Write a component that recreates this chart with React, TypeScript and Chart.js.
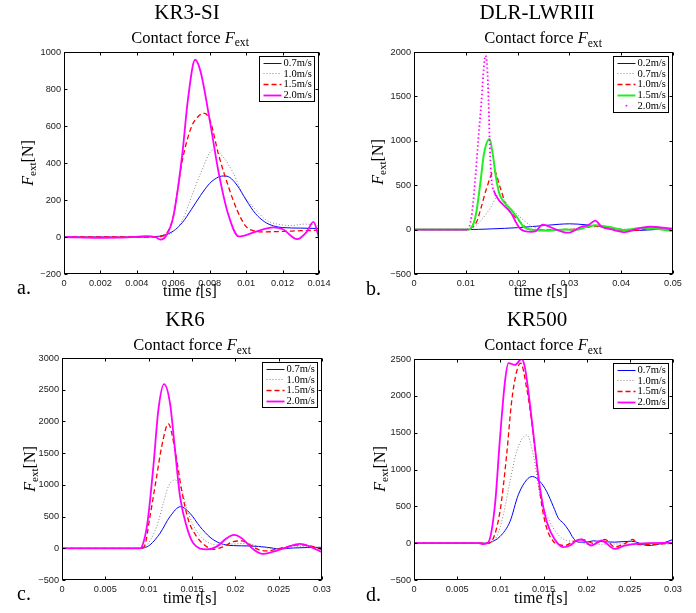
import React, { useEffect, useRef } from 'react';
import { Chart, registerables } from 'chart.js';
Chart.register(...registerables);

// ---------- Panel a: KR3-SI ----------
const aXTicks = [0, 0.002, 0.004, 0.006, 0.008, 0.01, 0.012, 0.014];
const aYTicks = [-200, 0, 200, 400, 600, 800, 1000];
const aT07 = [0, 0.004, 0.005, 0.0055, 0.006, 0.0065, 0.007, 0.0075, 0.008, 0.0085, 0.0088, 0.0091, 0.0095, 0.01, 0.0105, 0.011, 0.0115, 0.012, 0.013, 0.014];
const aF07 = [0, 0, 2, 10, 32, 78, 150, 225, 290, 325, 330, 322, 280, 200, 128, 83, 60, 51, 48, 46];
const aT10 = [0, 0.005, 0.0055, 0.006, 0.0065, 0.007, 0.0075, 0.0082, 0.0088, 0.0093, 0.0098, 0.0105, 0.0111, 0.0117, 0.0125, 0.0132, 0.014];
const aF10 = [0, 0, 5, 28, 92, 218, 344, 472, 425, 344, 236, 150, 92, 70, 62, 70, 62];
const aT15 = [0, 0.005, 0.0055, 0.006, 0.0065, 0.007, 0.0074, 0.0077, 0.008, 0.0085, 0.009, 0.0095, 0.01, 0.0105, 0.011, 0.012, 0.013, 0.014];
const aF15 = [0, 0, 10, 110, 416, 596, 655, 668, 635, 440, 280, 146, 56, 32, 28, 30, 34, 36];
const aT20 = [0, 0.002, 0.0035, 0.0045, 0.005, 0.0053, 0.0056, 0.006, 0.0065, 0.0068, 0.0072, 0.0075, 0.008, 0.0085, 0.009, 0.0096, 0.0105, 0.0115, 0.012, 0.0128, 0.0133, 0.0137, 0.014];
const aF20 = [0, -4, -2, 4, 0, -14, 5, 110, 452, 740, 958, 893, 632, 344, 128, 3, 28, 52, 43, -12, 25, 82, -5];

// ---------- Panel b: DLR-LWRIII ----------
const bXTicks = [0, 0.01, 0.02, 0.03, 0.04, 0.05];
const bYTicks = [-500, 0, 500, 1000, 1500, 2000];
const bT02 = [0, 0.01, 0.015, 0.02, 0.025, 0.028, 0.03, 0.033, 0.036, 0.039, 0.042, 0.045, 0.048, 0.05];
const bF02 = [0, 0, 8, 22, 45, 60, 65, 55, 35, 12, -12, -5, 5, 10];
const bT07 = [0, 0.0105, 0.0114, 0.0127, 0.0147, 0.0163, 0.0185, 0.0204, 0.0224, 0.0237, 0.026, 0.03, 0.035, 0.04, 0.045, 0.05];
const bF07 = [0, 0, 20, 88, 238, 385, 257, 145, 51, 13, 0, 5, 30, 5, 5, 5];
const bT10 = [0, 0.0105, 0.0111, 0.0121, 0.013, 0.0139, 0.0155, 0.0166, 0.0179, 0.0195, 0.0211, 0.022, 0.025, 0.0285, 0.032, 0.0349, 0.0387, 0.042, 0.046, 0.05];
const bF10 = [0, 0, 20, 88, 257, 444, 660, 481, 257, 145, 51, 6, -5, 0, 10, 40, 0, -10, 10, 0];
const bT15 = [0, 0.0105, 0.0115, 0.0121, 0.0128, 0.0135, 0.0146, 0.0152, 0.0158, 0.0165, 0.0175, 0.0188, 0.02, 0.0211, 0.0225, 0.0259, 0.0291, 0.031, 0.0349, 0.0375, 0.0407, 0.0433, 0.0465, 0.05];
const bF15 = [0, 0, 70, 220, 520, 850, 1020, 850, 600, 400, 300, 220, 130, 35, 0, -13, 2, -5, 50, 32, -5, 14, 10, -16];
const bT20 = [0, 0.0103, 0.0111, 0.01175, 0.0124, 0.01304, 0.01349, 0.0138, 0.01413, 0.01439, 0.01464, 0.01497, 0.0154, 0.0163, 0.0172, 0.0188, 0.0198, 0.0205, 0.0226, 0.0235, 0.0248, 0.0254, 0.027, 0.0298, 0.0323, 0.0336, 0.035, 0.0362, 0.0381, 0.0407, 0.0433, 0.0455, 0.05];
const bF20 = [0, 0, 145, 520, 1006, 1457, 1833, 1960, 1833, 1457, 932, 560, 440, 340, 280, 182, 70, 10, -25, -18, 56, 50, 10, -35, 32, 50, 100, 32, 2, -28, 14, 32, 10];

// ---------- Panel c: KR6 ----------
const cXTicks = [0, 0.005, 0.01, 0.015, 0.02, 0.025, 0.03];
const cYTicks = [-500, 0, 500, 1000, 1500, 2000, 2500, 3000];
const cT07 = [0, 0.009, 0.0095, 0.01015, 0.01131, 0.01246, 0.01369, 0.01477, 0.01592, 0.01708, 0.01823, 0.01977, 0.02169, 0.02362, 0.02515, 0.02669, 0.03];
const cF07 = [0, 0, 8, 53, 237, 500, 657, 552, 342, 174, 79, 42, 37, 16, -10, 5, 16];
const cT10 = [0, 0.009, 0.0095, 0.01092, 0.01169, 0.01227, 0.01304, 0.0138, 0.01458, 0.01554, 0.01669, 0.01785, 0.01977, 0.0213, 0.02285, 0.02477, 0.02746, 0.03];
const cF10 = [0, 0, 15, 342, 710, 973, 1078, 920, 552, 263, 105, 53, 68, 79, 26, -10, 26, 10];
const cT15 = [0, 0.009, 0.0095, 0.01015, 0.01092, 0.0115, 0.01227, 0.01304, 0.0138, 0.01458, 0.01554, 0.01669, 0.01746, 0.01862, 0.01977, 0.02073, 0.02169, 0.02277, 0.02362, 0.02515, 0.02746, 0.029, 0.03];
const cF15 = [0, 0, 30, 500, 1130, 1603, 1961, 1551, 920, 447, 184, 26, -16, 26, 105, 116, 53, -26, -42, 0, 53, 26, -26];
const cT20 = [0, 0.009, 0.0092, 0.00985, 0.01054, 0.01112, 0.01177, 0.01246, 0.01304, 0.01362, 0.01438, 0.01515, 0.01669, 0.01785, 0.019, 0.01985, 0.02073, 0.02208, 0.02315, 0.02438, 0.02592, 0.02746, 0.02862, 0.03];
const cF20 = [0, 0, 20, 394, 1288, 2182, 2587, 2287, 1551, 815, 342, 79, -16, 26, 158, 210, 158, -16, -89, -53, 16, 68, 26, -63];

// ---------- Panel d: KR500 ----------
const dXTicks = [0, 0.005, 0.01, 0.015, 0.02, 0.025, 0.03];
const dYTicks = [-500, 0, 500, 1000, 1500, 2000, 2500];
const dT07 = [0, 0.0085, 0.0088, 0.00996, 0.01112, 0.01208, 0.01305, 0.01371, 0.01459, 0.01537, 0.01614, 0.01672, 0.0173, 0.01788, 0.01846, 0.01903, 0.02, 0.02077, 0.02154, 0.02324, 0.02517, 0.0271, 0.02865, 0.03];
const dF07 = [0, 0, 9, 90, 294, 656, 860, 905, 837, 701, 498, 339, 271, 181, 68, 14, 14, 32, 23, 14, 27, -32, -5, 50];
const dT10 = [0, 0.0085, 0.00958, 0.01035, 0.01112, 0.01189, 0.01305, 0.01382, 0.01459, 0.01537, 0.01614, 0.01691, 0.01768, 0.01884, 0.0202, 0.024, 0.027, 0.03];
const dF10 = [0, 0, 90, 385, 837, 1244, 1470, 1199, 656, 385, 204, 90, 36, 23, -18, -10, -18, -10];
const dT15 = [0, 0.0085, 0.0088, 0.00996, 0.01073, 0.01131, 0.01189, 0.01236, 0.01305, 0.01363, 0.01421, 0.01479, 0.01537, 0.01614, 0.01691, 0.01749, 0.01846, 0.01942, 0.02097, 0.02212, 0.02324, 0.0244, 0.02536, 0.02595, 0.0271, 0.03];
const dF15 = [0, 0, 5, 430, 1199, 1923, 2330, 2443, 2104, 1652, 1063, 520, 204, 23, -23, -32, 23, 50, -5, 50, -50, -5, 50, -18, -18, 0];
const dT20 = [0, 0.0075, 0.00803, 0.0086, 0.00938, 0.00996, 0.01054, 0.01093, 0.0117, 0.01247, 0.01286, 0.01344, 0.01402, 0.01459, 0.01537, 0.01633, 0.0173, 0.01807, 0.01884, 0.01942, 0.02054, 0.0217, 0.02324, 0.0244, 0.02595, 0.03];
const dF20 = [0, 0, -14, 10, 520, 1425, 2195, 2443, 2421, 2502, 2376, 1878, 1290, 747, 294, 45, -54, -32, 36, 50, -32, 36, -77, -32, -5, 5];

// ---------- styles ----------
const STYLES: Record<string, any> = {
  blue: { borderColor: '#0000ff', borderWidth: 1 },
  gray: { borderColor: '#858585', borderWidth: 1, borderDash: [1, 2] },
  red: { borderColor: '#ff0000', borderWidth: 1.3, borderDash: [5, 3] },
  magenta: { borderColor: '#ff00ff', borderWidth: 1.8 },
  green: { borderColor: '#22ee22', borderWidth: 2 },
  magentaDots: {
    borderColor: '#ff00ff',
    borderWidth: 1.8,
    legendDot: true,
    segment: {
      borderDash: (ctx: any) => {
        const dx = Math.abs(ctx.p1.x - ctx.p0.x);
        const dy = Math.abs(ctx.p1.y - ctx.p0.y);
        return dy / Math.max(dx, 0.01) > 3 ? [1.4, 2.6] : undefined;
      },
    },
  },
};

type Series = { label: string; t: number[]; f: number[]; style: string };
type Panel = {
  left: number; top: number; padTop: number; padRight: number; yW: number; xH: number;
  xMax: number; yMin: number; yMax: number; xTicks: number[]; yTicks: number[]; series: Series[];
};

const PANELS: Panel[] = [
  {
    left: 0, top: 0, padTop: 52, padRight: 29, yW: 64, xH: 32,
    xMax: 0.014, yMin: -200, yMax: 1000, xTicks: aXTicks, yTicks: aYTicks,
    series: [
      { label: '0.7m/s', t: aT07, f: aF07, style: 'blue' },
      { label: '1.0m/s', t: aT10, f: aF10, style: 'gray' },
      { label: '1.5m/s', t: aT15, f: aF15, style: 'red' },
      { label: '2.0m/s', t: aT20, f: aF20, style: 'magenta' },
    ],
  },
  {
    left: 348, top: 0, padTop: 52, padRight: 23, yW: 66, xH: 32,
    xMax: 0.05, yMin: -500, yMax: 2000, xTicks: bXTicks, yTicks: bYTicks,
    series: [
      { label: '0.2m/s', t: bT02, f: bF02, style: 'blue' },
      { label: '0.7m/s', t: bT07, f: bF07, style: 'gray' },
      { label: '1.0m/s', t: bT10, f: bF10, style: 'red' },
      { label: '1.5m/s', t: bT15, f: bF15, style: 'green' },
      { label: '2.0m/s', t: bT20, f: bF20, style: 'magentaDots' },
    ],
  },
  {
    left: 0, top: 306, padTop: 52, padRight: 26, yW: 62, xH: 32,
    xMax: 0.03, yMin: -500, yMax: 3000, xTicks: cXTicks, yTicks: cYTicks,
    series: [
      { label: '0.7m/s', t: cT07, f: cF07, style: 'blue' },
      { label: '1.0m/s', t: cT10, f: cF10, style: 'gray' },
      { label: '1.5m/s', t: cT15, f: cF15, style: 'red' },
      { label: '2.0m/s', t: cT20, f: cF20, style: 'magenta' },
    ],
  },
  {
    left: 348, top: 306, padTop: 53, padRight: 23, yW: 66, xH: 32,
    xMax: 0.03, yMin: -500, yMax: 2500, xTicks: dXTicks, yTicks: dYTicks,
    series: [
      { label: '0.7m/s', t: dT07, f: dF07, style: 'blue' },
      { label: '1.0m/s', t: dT10, f: dF10, style: 'gray' },
      { label: '1.5m/s', t: dT15, f: dF15, style: 'red' },
      { label: '2.0m/s', t: dT20, f: dF20, style: 'magenta' },
    ],
  },
];

const TICK_FONT = { family: '"Liberation Sans", Arial, Helvetica, sans-serif', size: 9.2 };
const SERIF = '"Liberation Serif", "Times New Roman", Times, serif';

function fmt(v: any) {
  const n = Number(Number(v).toPrecision(6));
  return (n < 0 ? '\u2212' : '') + String(Math.abs(n));
}

const frameTicks = {
  id: 'frameTicks',
  afterDatasetsDraw(chart: any) {
    const { ctx, chartArea: a, scales } = chart;
    ctx.save();
    ctx.strokeStyle = '#000';
    ctx.lineWidth = 1;
    const L = Math.round(a.left) + 0.5, R = Math.round(a.right) - 0.5;
    const T = Math.round(a.top) + 0.5, B = Math.round(a.bottom) - 0.5;
    ctx.strokeRect(L, T, R - L, B - T);
    const len = 3;
    ctx.beginPath();
    scales.x.ticks.forEach((t: any) => {
      const px = Math.round(scales.x.getPixelForValue(t.value)) + 0.5;
      ctx.moveTo(px, B); ctx.lineTo(px, B - len);
      ctx.moveTo(px, T); ctx.lineTo(px, T + len);
    });
    scales.y.ticks.forEach((t: any) => {
      const py = Math.round(scales.y.getPixelForValue(t.value)) + 0.5;
      ctx.moveTo(L, py); ctx.lineTo(L + len, py);
      ctx.moveTo(R, py); ctx.lineTo(R - len, py);
    });
    ctx.stroke();
    ctx.restore();
  },
};

const legendBox = {
  id: 'legendBox',
  afterDraw(chart: any) {
    const { ctx, chartArea: a } = chart;
    const ds = chart.data.datasets;
    ctx.save();
    ctx.font = '10.5px ' + SERIF;
    const textW = Math.max(...ds.map((d: any) => ctx.measureText(d.label).width));
    const rowH = 10.8;
    const sampleW = 18;
    const w = Math.round(4 + sampleW + 2 + textW + 3);
    const h = Math.round(ds.length * rowH + 2);
    const x = Math.round(a.right - 5 - w) + 0.5;
    const y = Math.round(a.top + 4) + 0.5;
    ctx.fillStyle = '#fff';
    ctx.fillRect(x, y, w, h);
    ctx.strokeStyle = '#000';
    ctx.lineWidth = 1;
    ctx.strokeRect(x, y, w, h);
    ds.forEach((d: any, i: number) => {
      const cy = y + 6 + i * rowH;
      const sx0 = x + 4, sx1 = x + 4 + sampleW;
      if (d.legendDot) {
        ctx.fillStyle = d.borderColor;
        ctx.fillRect((sx0 + sx1) / 2 - 0.8, cy - 0.8, 1.6, 1.6);
      } else {
        ctx.beginPath();
        ctx.strokeStyle = d.borderColor;
        ctx.lineWidth = d.borderWidth;
        ctx.setLineDash(d.borderDash || []);
        ctx.moveTo(sx0, Math.round(cy) + 0.5);
        ctx.lineTo(sx1, Math.round(cy) + 0.5);
        ctx.stroke();
        ctx.setLineDash([]);
      }
      ctx.fillStyle = '#000';
      ctx.textBaseline = 'middle';
      ctx.textAlign = 'left';
      ctx.fillText(d.label, sx1 + 2, cy + 0.5);
    });
    ctx.restore();
  },
};

function ChartPanel({ p }: { p: Panel }) {
  const ref = useRef<HTMLCanvasElement>(null);
  useEffect(() => {
    const n = p.series.length;
    const chart = new Chart(ref.current as HTMLCanvasElement, {
      type: 'line',
      data: {
        datasets: p.series.map((s, i) => ({
          label: s.label,
          data: s.t.map((x, j) => ({ x, y: s.f[j] })),
          pointRadius: 0,
          fill: false,
          cubicInterpolationMode: 'monotone',
          order: n - i,
          ...STYLES[s.style],
        })) as any,
      },
      options: {
        responsive: false,
        animation: false,
        devicePixelRatio: 1,
        events: [],
        layout: { padding: { top: p.padTop, right: p.padRight, left: 0, bottom: 0 } },
        scales: {
          x: {
            type: 'linear',
            min: 0,
            max: p.xMax,
            afterBuildTicks: (s: any) => { s.ticks = p.xTicks.map((v) => ({ value: v })); },
            afterFit: (s: any) => { s.height = p.xH; },
            grid: { display: false, drawTicks: false },
            border: { display: false },
            ticks: { autoSkip: false, maxRotation: 0, padding: 4, font: TICK_FONT, color: '#1a1a1a', callback: fmt },
          },
          y: {
            type: 'linear',
            min: p.yMin,
            max: p.yMax,
            afterBuildTicks: (s: any) => { s.ticks = p.yTicks.map((v) => ({ value: v })); },
            afterFit: (s: any) => { s.width = p.yW; },
            grid: { display: false, drawTicks: false },
            border: { display: false },
            ticks: { autoSkip: false, padding: 3, font: TICK_FONT, color: '#1a1a1a', callback: fmt },
          },
        },
        plugins: { legend: { display: false }, tooltip: { enabled: false }, title: { display: false } },
      } as any,
      plugins: [frameTicks, legendBox],
    });
    return () => chart.destroy();
  }, [p]);
  return (
    <canvas
      ref={ref}
      width={348}
      height={306}
      style={{ position: 'absolute', left: p.left, top: p.top, width: 348, height: 306 }}
    />
  );
}

function Txt({ x, y, size, children, align = 'center', italic = false }: any) {
  const style: React.CSSProperties = {
    position: 'absolute',
    left: x,
    top: y - 0.8375 * size,
    fontFamily: SERIF,
    fontSize: size,
    lineHeight: 1,
    whiteSpace: 'nowrap',
    color: '#000',
    fontStyle: italic ? 'italic' : 'normal',
    transform: align === 'center' ? 'translateX(-50%)' : undefined,
  };
  return <div style={style}>{children}</div>;
}

function YLabel({ cx, cy }: { cx: number; cy: number }) {
  return (
    <div
      style={{
        position: 'absolute', left: cx, top: cy, fontFamily: SERIF, fontSize: 16, lineHeight: 1,
        whiteSpace: 'nowrap', transform: 'translate(-50%, -50%) rotate(-90deg)', color: '#000',
      }}
    >
      <Fext />[N]
    </div>
  );
}

function Fext() {
  return (
    <>
      <i>F</i>
      <span style={{ fontSize: '0.7em', position: 'relative', top: '0.3em' }}>ext</span>
    </>
  );
}

const TEXTS = [
  { title: 'KR3-SI', letter: 'a.', tx: 187, ty: 20, sx: 190, sy: 43.5, lx: 190, ly: 296, yx: 28, yy: 163, px: 17, py: 294 },
  { title: 'DLR-LWRIII', letter: 'b.', tx: 537, ty: 20, sx: 543, sy: 44, lx: 541, ly: 296, yx: 378, yy: 162, px: 366, py: 294.5 },
  { title: 'KR6', letter: 'c.', tx: 185, ty: 327, sx: 192, sy: 351, lx: 190, ly: 603, yx: 30, yy: 469, px: 17, py: 600 },
  { title: 'KR500', letter: 'd.', tx: 537, ty: 327, sx: 543, sy: 351, lx: 541, ly: 603, yx: 380, yy: 469, px: 366, py: 601 },
];

export default function App() {
  return (
    <div style={{ position: 'absolute', left: 0, top: 0, width: 696, height: 613, background: '#fff', overflow: 'hidden' }}>
      {PANELS.map((p, i) => (
        <ChartPanel key={i} p={p} />
      ))}
      {TEXTS.map((t, i) => (
        <React.Fragment key={i}>
          <Txt x={t.tx} y={t.ty} size={21}>{t.title}</Txt>
          <Txt x={t.sx} y={t.sy} size={16.5}>Contact force <Fext /></Txt>
          <Txt x={t.lx} y={t.ly} size={16}>time <i>t</i>[s]</Txt>
          <YLabel cx={t.yx} cy={t.yy} />
          <Txt x={t.px} y={t.py} size={20} align="left">{t.letter}</Txt>
        </React.Fragment>
      ))}
    </div>
  );
}
